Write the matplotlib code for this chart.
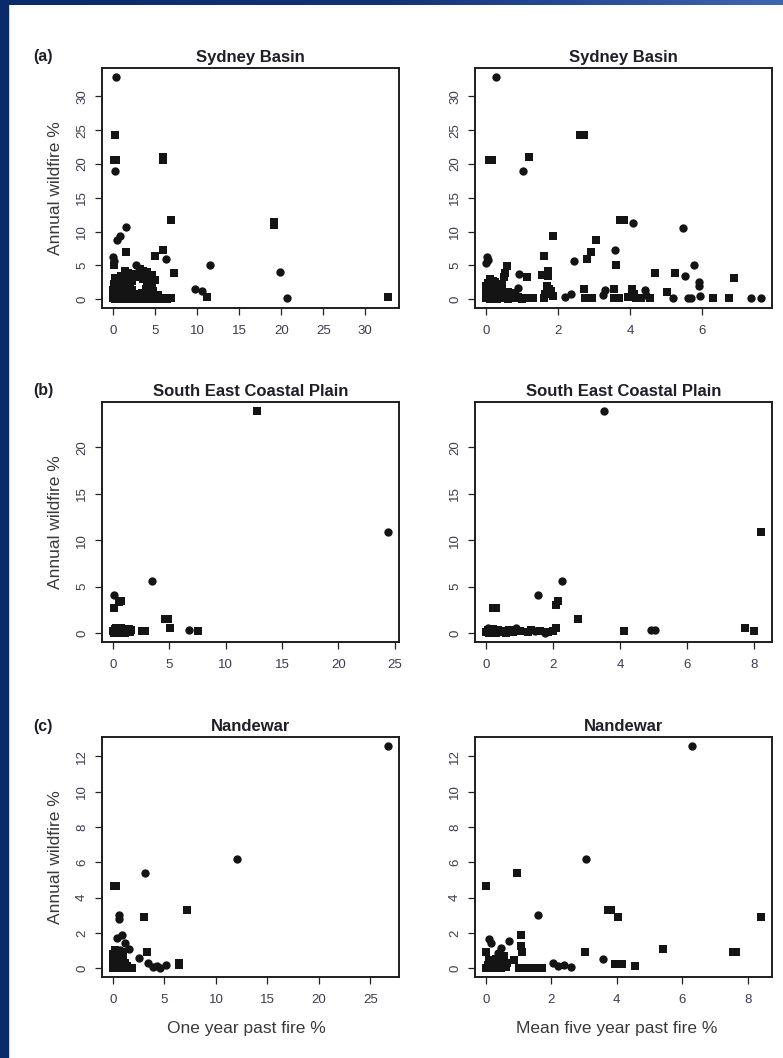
import matplotlib
matplotlib.use("Agg")
import matplotlib.pyplot as plt
import numpy as np
from matplotlib.patches import Rectangle
from matplotlib.colors import LinearSegmentedColormap

plt.rcParams['font.family'] = ['Liberation Sans', 'DejaVu Sans']

# ---------------- data ----------------
# Sydney Basin, one year past fire %
sb1_sq_x = [0.2, 0.1, 0.4, 6.0, 5.95, 6.9, 19.1, 19.1, 1.55, 5.0, 6.0, 7.3, 11.2, 32.7, 6.9, 0.1,
            0.0, 0.2, 0.4, 0.6, 0.8, 1.0, 1.2, 1.4, 1.7, 2.0, 2.3, 2.6, 2.9, 3.2, 3.5, 3.8, 4.1, 4.4, 4.8, 5.2, 5.6, 6.0, 6.4,
            0.1, 0.3, 0.5, 0.7, 1.0, 1.3, 1.6, 1.9, 2.2, 2.5, 2.8, 3.1, 3.4, 3.7, 4.0, 4.4, 4.9, 5.3,
            0.0, 0.2, 0.5, 0.8, 1.1, 1.4, 1.7, 2.0, 2.3, 3.9, 4.3, 4.7,
            0.1, 0.4, 0.7, 1.0, 1.3, 1.6, 2.0, 2.3, 4.1, 4.6,
            0.2, 0.5, 0.9, 1.2, 1.6, 2.0, 2.4, 2.8, 3.6, 4.4, 5.0,
            1.4, 1.8, 2.2, 3.2, 3.6, 4.0, 4.6]
sb1_sq_y = [24.3, 20.6, 20.6, 21.0, 20.6, 11.7, 11.4, 10.9, 7.0, 6.4, 7.2, 3.9, 0.3, 0.3, 0.2, 5.0,
            0.1, 0.0, 0.2, 0.0, 0.1, 0.3, 0.0, 0.2, 0.1, 0.0, 0.2, 0.1, 0.0, 0.2, 0.1, 0.0, 0.2, 0.1, 0.0, 0.1, 0.0, 0.1, 0.0,
            0.7, 0.9, 0.6, 1.0, 0.8, 0.6, 0.9, 0.7, 1.0, 0.6, 0.8, 0.7, 0.9, 0.6, 0.8, 0.7, 0.5, 0.6,
            1.4, 1.7, 1.5, 1.3, 1.6, 1.4, 1.8, 1.5, 1.3, 1.5, 1.8, 1.2,
            2.3, 2.0, 2.5, 2.2, 2.6, 2.1, 2.4, 2.7, 2.4, 2.1,
            3.1, 2.9, 3.4, 3.0, 3.5, 3.2, 3.6, 3.3, 3.0, 3.2, 2.9,
            4.1, 3.9, 3.7, 4.4, 4.2, 4.0, 3.6]
sb1_ci_x = [0.4, 0.2, 1.55, 0.8, 0.5, 6.3, 11.5, 19.9, 20.7, 2.7, 0.05, 0.1, 9.8, 10.6]
sb1_ci_y = [32.9, 18.9, 10.7, 9.3, 8.8, 6.0, 5.0, 4.0, 0.2, 5.0, 6.2, 5.6, 1.5, 1.2]

# Sydney Basin, mean five year past fire %
sb5_sq_x = [0.08, 0.16, 1.18, 2.62, 2.72, 3.73, 3.83, 1.85, 3.04, 2.92, 2.8, 1.6, 3.62, 5.25, 4.69, 6.88,
            1.73, 1.73, 1.55, 0.59, 0.52, 0.5, 1.15, 2.72, 2.75, 2.85, 2.95, 3.55, 3.55, 3.7, 3.95, 4.05,
            4.1, 4.15, 4.3, 4.55, 5.02, 6.3, 6.75, 1.6, 1.65, 1.75, 1.85, 1.7, 1.8,
            0.0, 0.05, 0.1, 0.15, 0.2, 0.25, 0.3, 0.35, 0.4, 0.5, 0.6, 0.7, 0.8, 0.9, 1.0, 1.1, 1.2, 1.3,
            0.0, 0.05, 0.1, 0.15, 0.2, 0.25, 0.3, 0.4, 0.5, 0.6, 0.7, 0.8,
            0.0, 0.05, 0.1, 0.15, 0.2, 0.25, 0.3, 0.4, 0.45, 0.1, 0.2]
sb5_sq_y = [20.6, 20.6, 21.1, 24.3, 24.3, 11.7, 11.7, 9.3, 8.8, 7.0, 6.0, 6.4, 5.1, 3.9, 3.8, 3.1,
            4.2, 3.4, 3.6, 4.9, 3.9, 3.2, 3.3, 1.5, 0.2, 0.1, 0.2, 1.5, 0.2, 0.2, 0.3, 1.5,
            0.8, 0.2, 0.2, 0.2, 1.0, 0.1, 0.2, 0.2, 0.8, 1.5, 0.4, 1.9, 1.2,
            0.1, 0.5, 0.0, 0.3, 0.1, 0.6, 0.0, 0.3, 0.1, 0.4, 0.0, 0.2, 0.1, 0.3, 0.0, 0.2, 0.1, 0.2,
            0.9, 1.3, 1.0, 1.6, 0.8, 1.2, 0.9, 1.1, 0.8, 1.0, 0.7, 0.9,
            2.0, 2.4, 2.8, 2.2, 1.9, 2.6, 2.1, 1.8, 2.3, 3.0, 2.7]
sb5_ci_x = [0.27, 1.03, 4.07, 5.47, 2.43, 3.58, 5.76, 5.53, 5.9, 5.9, 0.02, 0.05, 0.0, 0.92, 0.9,
            2.2, 2.35, 3.25, 3.3, 4.4, 4.45, 5.2, 5.6, 5.7, 5.95, 7.35, 7.63]
sb5_ci_y = [32.9, 18.9, 11.3, 10.6, 5.7, 7.2, 5.1, 3.4, 2.5, 2.0, 6.2, 5.8, 5.3, 3.7, 1.6,
            0.3, 0.7, 0.6, 1.3, 1.3, 0.6, 0.1, 0.1, 0.15, 0.4, 0.1, 0.2]

# South East Coastal Plain, one year past fire %
se1_sq_x = [12.8, 0.1, 0.5, 0.7, 4.6, 4.9, 5.1, 7.5, 2.8, 2.6,
            0.0, 0.1, 0.2, 0.4, 0.5, 0.6, 0.7, 0.9, 1.0, 1.1, 1.3, 1.4, 1.5, 0.3, 1.6]
se1_sq_y = [23.9, 2.7, 3.3, 3.5, 1.5, 1.5, 0.6, 0.2, 0.2, 0.2,
            0.2, 0.0, 0.4, 0.1, 0.3, 0.0, 0.5, 0.1, 0.3, 0.0, 0.2, 0.4, 0.1, 0.6, 0.3]
se1_ci_x = [24.4, 3.5, 0.1, 6.7, 0.3, 0.8, 1.2]
se1_ci_y = [10.9, 5.6, 4.1, 0.3, 0.4, 0.2, 0.4]

# South East Coastal Plain, mean five year past fire %
se5_sq_x = [8.2, 2.1, 2.14, 0.2, 0.3, 2.75, 4.12, 7.72, 8.0, 2.1, 2.0,
            0.0, 0.05, 0.1, 0.15, 0.2, 0.25, 0.3, 0.35, 0.4, 0.5, 0.6, 0.7, 0.8, 1.0, 1.25, 1.35, 1.6, 1.85]
se5_sq_y = [10.9, 3.0, 3.4, 2.7, 2.7, 1.5, 0.25, 0.6, 0.2, 0.6, 0.2,
            0.1, 0.3, 0.0, 0.2, 0.4, 0.1, 0.0, 0.3, 0.1, 0.2, 0.0, 0.3, 0.1, 0.2, 0.1, 0.3, 0.2, 0.1]
se5_ci_x = [3.52, 2.26, 1.54, 4.92, 5.05, 0.05, 0.9, 1.45, 1.75]
se5_ci_y = [23.9, 5.6, 4.1, 0.3, 0.3, 0.5, 0.6, 0.2, 0.0]

# Nandewar, one year past fire %
na1_sq_x = [0.05, 0.25, 7.23, 2.97, 3.29, 6.36, 6.36,
            0.0, 0.2, 0.4, 0.6, 0.8, 1.0, 1.2, 1.4, 1.6, 1.8,
            0.0, 0.2, 0.4, 0.6, 0.8, 1.0, 1.2,
            0.0, 0.2, 0.4, 0.6, 1.0, 0.1, 0.3]
na1_sq_y = [4.65, 4.65, 3.3, 2.88, 0.94, 0.15, 0.3,
            0.0, 0.1, 0.0, 0.2, 0.0, 0.1, 0.0, 0.1, 0.0, 0.0,
            0.4, 0.6, 0.3, 0.5, 0.4, 0.6, 0.3,
            0.8, 1.0, 0.9, 0.8, 0.9, 0.2, 0.7]
na1_ci_x = [26.7, 12.0, 3.06, 0.55, 0.6, 2.55, 3.4, 3.9, 4.3, 4.6, 5.1, 0.87, 0.4, 1.2, 1.6, 0.7]
na1_ci_y = [12.6, 6.16, 5.37, 3.0, 2.8, 0.56, 0.3, 0.05, 0.1, 0.0, 0.2, 1.9, 1.7, 1.4, 1.1, 1.05]

# Nandewar, mean five year past fire %
na5_sq_x = [0.0, 0.94, 3.72, 3.82, 4.05, 8.41, 3.04, 3.95, 4.15, 4.55, 5.4, 7.55, 7.65, 1.07, 1.07, 1.09,
            0.87, 0.0, 0.56, 1.0, 1.1, 1.2, 1.3, 1.4, 1.5, 1.6, 1.7,
            0.0, 0.05, 0.1, 0.15, 0.2, 0.25, 0.3, 0.35, 0.4, 0.45, 0.5, 0.55, 0.6, 0.65, 0.3, 0.1]
na5_sq_y = [4.65, 5.37, 3.3, 3.3, 2.88, 2.88, 0.94, 0.23, 0.23, 0.1, 1.1, 0.9, 0.9, 1.88, 1.23, 0.94,
            0.47, 0.94, 0.66, 0.0, 0.0, 0.0, 0.0, 0.0, 0.0, 0.0, 0.0,
            0.0, 0.2, 0.05, 0.3, 0.0, 0.15, 0.0, 0.25, 0.1, 0.0, 0.2, 0.4, 0.05, 0.3, 0.5, 0.45]
na5_ci_x = [6.3, 3.06, 1.58, 0.71, 0.1, 0.15, 3.57, 2.05, 2.2, 2.4, 2.6, 0.46, 0.36]
na5_ci_y = [12.6, 6.16, 3.0, 1.55, 1.66, 1.41, 0.53, 0.3, 0.1, 0.2, 0.05, 1.13, 0.85]

titles = ["Sydney Basin", "South East Coastal Plain", "Nandewar"]
panel_letters = ["(a)", "(b)", "(c)"]
xticks_left = [[0, 5, 10, 15, 20, 25, 30], [0, 5, 10, 15, 20, 25], [0, 5, 10, 15, 20, 25]]
xticks_right = [[0, 2, 4, 6], [0, 2, 4, 6, 8], [0, 2, 4, 6, 8]]
yticks = [[0, 5, 10, 15, 20, 25, 30], [0, 5, 10, 15, 20], [0, 2, 4, 6, 8, 10, 12]]
ylabel = "Annual wildfire %"
xlabel_left = "One year past fire %"
xlabel_right = "Mean five year past fire %"

panels = [
    [(sb1_sq_x, sb1_sq_y, sb1_ci_x, sb1_ci_y), (sb5_sq_x, sb5_sq_y, sb5_ci_x, sb5_ci_y)],
    [(se1_sq_x, se1_sq_y, se1_ci_x, se1_ci_y), (se5_sq_x, se5_sq_y, se5_ci_x, se5_ci_y)],
    [(na1_sq_x, na1_sq_y, na1_ci_x, na1_ci_y), (na5_sq_x, na5_sq_y, na5_ci_x, na5_ci_y)],
]

# ---------------- layout ----------------
W, H = 783, 1058
fig = plt.figure(figsize=(W / 100, H / 100), dpi=100)
fig.patch.set_facecolor("white")

def px_axes(x0, y0, x1, y1):
    return fig.add_axes([x0 / W, 1 - y1 / H, (x1 - x0) / W, (y1 - y0) / H])

col_x = [(102, 399), (475, 772)]
row_y = [(68, 308), (402, 642), (737, 977)]
ink = "#141414"
tick_col = "#3c3c50"

for r in range(3):
    for c in range(2):
        ax = px_axes(col_x[c][0], row_y[r][0], col_x[c][1], row_y[r][1])
        sqx, sqy, cix, ciy = panels[r][c]
        ax.scatter(sqx, sqy, marker="s", s=28, color=ink, linewidths=0, zorder=3)
        ax.scatter(cix, ciy, marker="o", s=36, color=ink, linewidths=0, zorder=3)
        allx = list(sqx) + list(cix)
        ally = list(sqy) + list(ciy)
        dx = max(allx) - min(allx)
        dy = max(ally) - min(ally)
        ax.set_xlim(min(allx) - 0.04 * dx, max(allx) + 0.04 * dx)
        ax.set_ylim(min(ally) - 0.04 * dy, max(ally) + 0.04 * dy)
        ax.set_xticks(xticks_left[r] if c == 0 else xticks_right[r])
        ax.set_yticks(yticks[r])
        ax.tick_params(axis="both", direction="out", length=5, width=0.9, color="#222222",
                       labelsize=9.5, labelcolor=tick_col)
        ax.tick_params(axis="x", pad=7)
        ax.tick_params(axis="y", pad=5)
        for lbl in ax.get_yticklabels():
            lbl.set_rotation(90)
            lbl.set_va("center")
            lbl.set_ha("right")
        for sp in ax.spines.values():
            sp.set_linewidth(1.4)
            sp.set_color("#1e1e1e")
        ax.set_title(titles[r], fontsize=12, fontweight="bold", color="#1e1e28", pad=4)
        if c == 0:
            fig.text(55 / W, 1 - ((row_y[r][0] + row_y[r][1]) / 2) / H, ylabel, rotation=90,
                     ha="center", va="center", fontsize=12.5, color="#3a3a3a")
            fig.text(33 / W, 1 - (row_y[r][0] - 11) / H, panel_letters[r], ha="left", va="center",
                     fontsize=11.5, fontweight="bold", color="#1e1e28")

fig.text(246 / W, 1 - 1028 / H, xlabel_left, ha="center", va="center", fontsize=12.5, color="#3a3a3a")
fig.text(617 / W, 1 - 1028 / H, xlabel_right, ha="center", va="center", fontsize=12.5, color="#3a3a3a")

# slide border (blue frame on left and top)
fig.patches.append(Rectangle((0, 0), 8 / W, 1, transform=fig.transFigure, color="#0b2a6a", zorder=10))
top = fig.add_axes([0, 1 - 5 / H, 1, 5 / H])
cmap = LinearSegmentedColormap.from_list("band", ["#0b2a6a", "#12337a", "#3f66b0"])
top.imshow(np.linspace(0, 1, 256)[None, :], aspect="auto", cmap=cmap, extent=[0, 1, 0, 1])
top.axis("off")

fig.savefig("out.png", dpi=100)
